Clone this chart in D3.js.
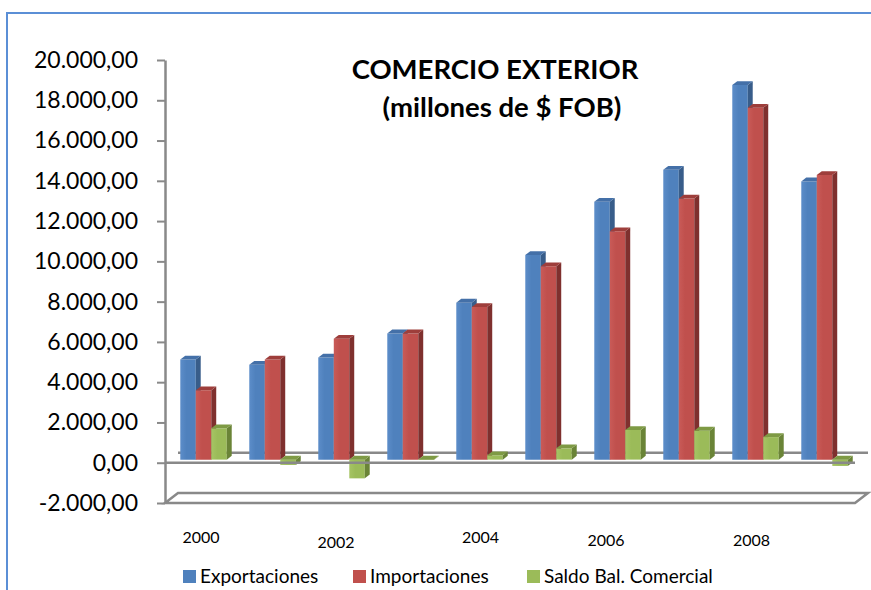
<!DOCTYPE html>
<html><head><meta charset="utf-8">
<script src="https://cdn.jsdelivr.net/npm/d3@7"></script>
<style>
body{margin:0;background:#fff}
svg{display:block}
text{font-family:Lato,"Open Sans",sans-serif;fill:#000}
</style>
</head><body>
<svg id="c" width="871" height="590"></svg>
<script>
// ---- data ----
const years = ["2000","2001","2002","2003","2004","2005","2006","2007","2008","2009"];
const exportaciones = [4975, 4711, 5075, 6269, 7796, 10164, 12801, 14393, 18607, 13816];
const importaciones = [3448, 4975, 6005, 6269, 7580, 9602, 11343, 12970, 17478, 14129];
const saldo = [1557, -264, -930, -20, 216, 562, 1470, 1440, 1120, -313];
const seriesNames = ["Exportaciones", "Importaciones", "Saldo Bal. Comercial"];
const yTickValues = [-2000, 0, 2000, 4000, 6000, 8000, 10000, 12000, 14000, 16000, 18000, 20000];
const xLabelYears = ["2000", "2002", "2004", "2006", "2008"];
const titleLines = ["COMERCIO EXTERIOR", "(millones de $ FOB)"];

// ---- styles ----
const faces = [
  {front:"#4F81BD", frontL:"#5C8DC9", side:"#385D8A", top:"#4470A8"},
  {front:"#C0504D", frontL:"#C95B58", side:"#7F302E", top:"#9E3E3B"},
  {front:"#9BBB59", frontL:"#A6C464", side:"#6A8437", top:"#7E9A44"}
];
const gray = "#898989";

const svg = d3.select("#c");
const defs = svg.append("defs");
faces.forEach((f,i)=>{
  const g = defs.append("linearGradient").attr("id","g"+i).attr("x1",0).attr("x2",1).attr("y1",0).attr("y2",0);
  g.append("stop").attr("offset","0%").attr("stop-color",f.frontL);
  g.append("stop").attr("offset","40%").attr("stop-color",f.front);
  g.append("stop").attr("offset","100%").attr("stop-color",f.front);
});

// border
svg.append("path").attr("d","M7,590 L7,13 L871,13").attr("fill","none")
  .attr("stroke","#5B8FD6").attr("stroke-width",2);

const y = d3.scaleLinear().domain([-2000, 20000]).range([503, 60]);
const x = d3.scaleBand().domain(years).range([165, 855]);
const groupW = 46.5;
const xs = d3.scaleBand().domain(seriesNames).range([0, groupW]);
const DX = 13, DY = -10;
const proj = (px, v, d) => [px + DX*d, y(v) + DY*d];
const line = d3.line();

// back zero line (behind bars)
svg.append("path").attr("d", line([proj(165,0,1), proj(855,0,1)]))
  .attr("stroke", gray).attr("stroke-width", 2.5).attr("fill","none");

// floor at minimum
svg.append("path").attr("d", line([proj(165,-2000,0), proj(855,-2000,0), proj(855,-2000,1), proj(165,-2000,1)]) + "Z")
  .attr("stroke", gray).attr("stroke-width", 2.5).attr("fill","none");

// bars
const seriesData = [exportaciones, importaciones, saldo];
const d0 = 0.31, d1 = 0.69;
const barsG = svg.append("g");
years.forEach((yr, i) => {
  seriesNames.forEach((s, k) => {
    const v = seriesData[k][i];
    const x0 = x(yr) + (x.bandwidth() - groupW)/2 + xs(s);
    const x1 = x0 + xs.bandwidth();
    const top = Math.max(0, v), bot = Math.min(0, v);
    const f = faces[k];
    const g = barsG.append("g");
    g.append("path").attr("d", line([proj(x0,top,d0), proj(x1,top,d0), proj(x1,bot,d0), proj(x0,bot,d0)]) + "Z")
      .attr("fill", "url(#g"+k+")");
    g.append("path").attr("d", line([proj(x1,top,d0), proj(x1,top,d1), proj(x1,bot,d1), proj(x1,bot,d0)]) + "Z")
      .attr("fill", f.side);
    g.append("path").attr("d", line([proj(x0,top,d0), proj(x0,top,d1), proj(x1,top,d1), proj(x1,top,d0)]) + "Z")
      .attr("fill", f.top);
  });
});

// front zero line
svg.append("path").attr("d", line([proj(165,0,0), proj(855,0,0)]))
  .attr("stroke", gray).attr("stroke-width", 2.5).attr("fill","none");

// y axis
const loc = d3.formatLocale({decimal:",", thousands:".", grouping:[3], currency:["$",""], minus:"-"});
const fmt = loc.format(",.2f");
const yAxis = d3.axisLeft(y).tickValues(yTickValues).tickFormat(fmt).tickSize(8).tickSizeOuter(0).tickPadding(19);
const ga = svg.append("g").attr("transform","translate(165,0)").call(yAxis);
ga.select(".domain").attr("stroke", gray).attr("stroke-width", 2.5);
ga.selectAll(".tick line").attr("stroke", gray).attr("stroke-width", 2);
ga.selectAll(".tick text").style("font-family","Lato,'Open Sans',sans-serif").style("font-size","23px").attr("fill","#000");

// x labels
const labelDX = [1.5, -1.5, 5, -7.5, 0];
const labelY = [537, 542, 537, 540, 540];
svg.append("g").selectAll("text").data(xLabelYears).join("text")
  .attr("x", (d,i) => x(d) + x.bandwidth()/2 + labelDX[i])
  .attr("y", (d,i) => labelY[i])
  .attr("dy", "0.36em")
  .attr("text-anchor","middle")
  .style("font-size","16px")
  .text(d => d);

// title
svg.append("g").selectAll("text").data(titleLines).join("text")
  .attr("x", (d,i) => i ? 502 : 495)
  .attr("y", (d,i) => i ? 117 : 79)
  .attr("text-anchor","middle")
  .style("font-size","27.5px").style("font-weight","bold")
  .text(d => d);

// legend
const legX = [183, 353, 527];
const lg = svg.append("g").selectAll("g").data(seriesNames).join("g")
  .attr("transform", (d,i) => `translate(${legX[i]},570)`);
lg.append("rect").attr("width",13).attr("height",13).attr("fill",(d,i)=>faces[i].front);
lg.append("text").attr("x",17).attr("y",6.5).attr("dy","0.36em").style("font-size","19px").text(d=>d);
</script>
</body></html>
